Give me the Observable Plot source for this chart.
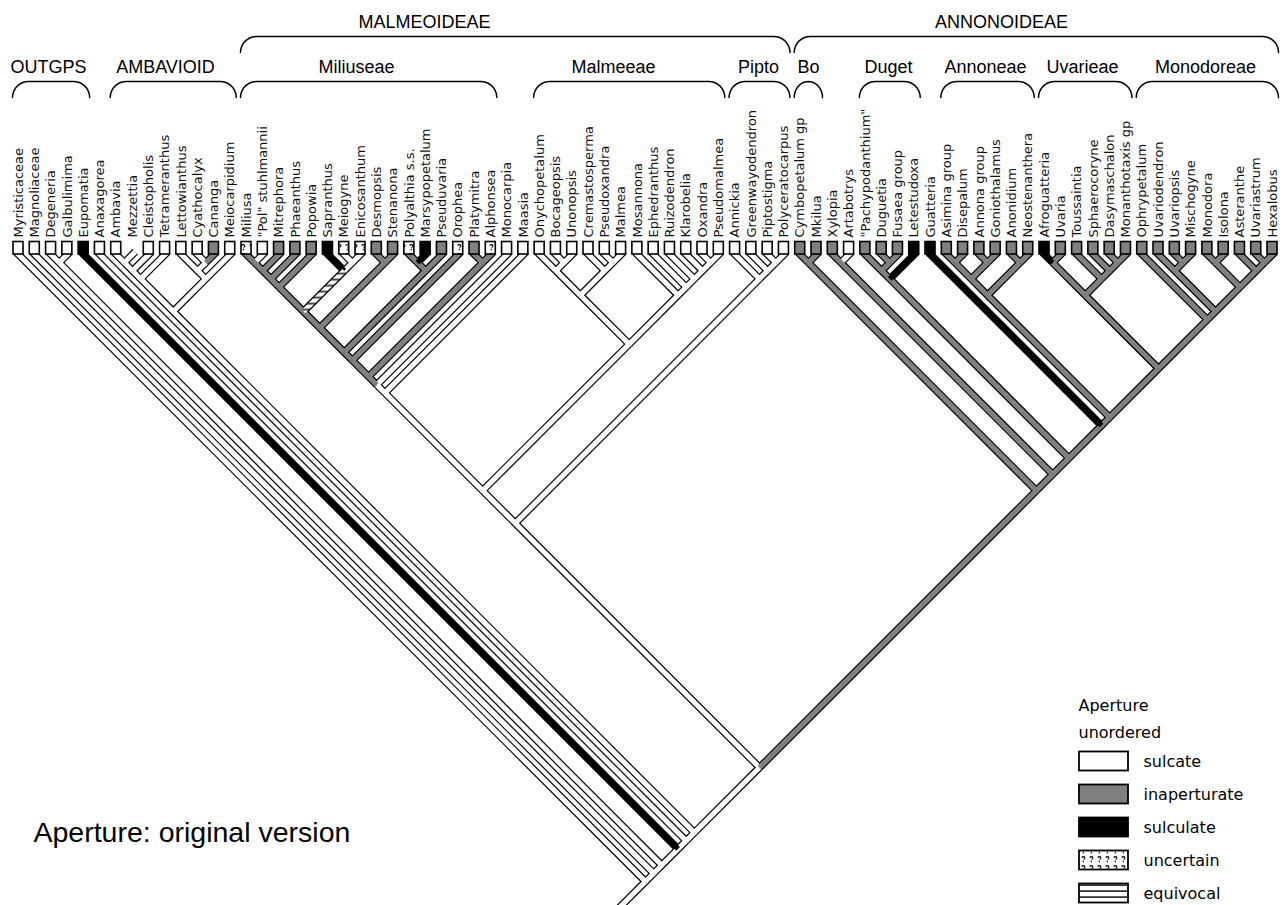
<!DOCTYPE html>
<html><head><meta charset="utf-8">
<script src="https://cdn.jsdelivr.net/npm/d3@7"></script>
<script src="https://cdn.jsdelivr.net/npm/@observablehq/plot@0.6"></script>
<style>body{margin:0;background:#fff}</style>
</head><body><div id="chart"></div>
<script>
// ---------- DATA ----------
const taxa = ["Myristicaceae","Magnoliaceae","Degeneria","Galbulimima","Eupomatia","Anaxagorea","Ambavia","Mezzettia","Cleistopholis","Tetrameranthus","Lettowianthus","Cyathocalyx","Cananga","Meiocarpidium","Miliusa","\"Pol\" stuhlmannii","Mitrephora","Phaeanthus","Popowia","Sapranthus","Meiogyne","Enicosanthum","Desmopsis","Stenanona","Polyalthia s.s.","Marsypopetalum","Pseuduvaria","Orophea","Platymitra","Alphonsea","Monocarpia","Maasia","Onychopetalum","Bocageopsis","Unonopsis","Cremastosperma","Pseudoxandra","Malmea","Mosannona","Ephedranthus","Ruizodendron","Klarobelia","Oxandra","Pseudomalmea","Annickia","Greenwayodendron","Piptostigma","Polyceratocarpus","Cymbopetalum gp","Mkilua","Xylopia","Artabotrys","\"Pachypodanthium\"","Duguetia","Fusaea group","Letestudoxa","Guatteria","Asimina group","Disepalum","Annona group","Goniothalamus","Anonidium","Neostenanthera","Afroguatteria","Uvaria","Toussaintia","Sphaerocoryne","Dasymaschalon","Monanthotaxis gp","Ophrypetalum","Uvariodendron","Uvariopsis","Mischogyne","Monodora","Isolona","Asteranthe","Uvariastrum","Hexalobus"];
// s = sulcate, i = inaperturate, c = sulculate, u = uncertain, m = missing
const tipBoxState = ["s","s","s","s","c","s","s","m","s","s","s","s","i","s",
  "u","s","i","i","i","c","u","u","i","i","u","c","i","u","i","u","s","s",
  "s","s","s","s","s","s","s","s","s","s","s","s","s","s","s","s",
  "i","i","i","s","i","i","i","c","c","i","i","i","i","i","i","c",
  "i","i","i","i","i","i","i","i","i","i","i","i","i","i"];
const tipBranchState = ["s","s","s","s","c","s","s","s","s","s","s","s","i","s",
  "i","s","i","i","i","c","s","s","i","i","i","c","i","i","i","i","s","s",
  "s","s","s","s","s","s","s","s","s","s","s","s","s","s","s","s",
  "i","i","i","s","i","i","i","c","c","i","i","i","i","i","i","c",
  "i","i","i","i","i","i","i","i","i","i","i","i","i","i"];
// clades: [first tip, last tip, state of the branch below the clade]
const clades = [
  [0,77,"s"],[1,77,"s"],[2,77,"s"],[2,3,"s"],[4,77,"s"],[5,77,"s"],[6,77,"s"],
  [6,13,"s"],[6,9,"s"],[6,8,"s"],[6,7,"s"],[10,13,"s"],[10,12,"s"],[11,12,"s"],
  [14,77,"s"],[14,47,"s"],[14,43,"s"],[14,31,"s"],[14,30,"s"],[14,29,"i"],
  [14,27,"i"],[14,26,"i"],[14,23,"i"],[14,21,"i"],[14,18,"i"],[14,17,"i"],[14,16,"i"],[14,15,"i"],
  [19,21,"e"],[20,21,"s"],[22,23,"i"],[24,26,"i"],[24,25,"i"],[28,29,"i"],
  [32,43,"s"],[32,37,"s"],[32,34,"s"],[33,34,"s"],[35,37,"s"],[36,37,"s"],
  [38,43,"s"],[39,43,"s"],[40,43,"s"],[41,43,"s"],[42,43,"s"],
  [44,47,"s"],[45,47,"s"],[46,47,"s"],
  [48,77,"i"],[48,49,"i"],[50,77,"i"],[50,51,"i"],[52,77,"i"],[52,55,"i"],[52,54,"i"],[53,54,"i"],
  [56,77,"i"],[57,77,"i"],[57,62,"i"],[57,60,"i"],[57,58,"i"],[59,60,"i"],[61,62,"i"],
  [63,77,"i"],[63,68,"i"],[63,64,"i"],[65,68,"i"],[66,68,"i"],[67,68,"i"],
  [69,77,"i"],[70,77,"i"],[70,72,"i"],[71,72,"i"],[73,77,"i"],[73,74,"i"],[75,77,"i"],[76,77,"i"]
];
// [label, first tip, last tip, label centre (px)]
const subfamilies = [["MALMEOIDEAE",14,47,424],["ANNONOIDEAE",48,77,1001]];
const tribes = [["OUTGPS",0,4,48],["AMBAVIOID",6,13,165],["Miliuseae",14,29,356],["Malmeeae",32,43,613],["Pipto",44,47,758],["Bo",48,49,808],["Duget",52,55,888],["Annoneae",57,62,985],["Uvarieae",63,68,1082],["Monodoreae",69,77,1205]];
const legendTitle = ["Aperture","unordered"];
const legendStates = ["s","i","c","u","e"];
const legendLabels = ["sulcate","inaperturate","sulculate","uncertain","equivocal"];
const chartTitle = "Aperture: original version";

// ---------- LAYOUT ----------
const K = 16.286, X0 = 18, Y0 = 254;
const ux = p => (p - X0) / K, uy = p => (p - Y0) / K;
const paint = {s:"#ffffff", i:"#808080", c:"#000000", u:"url(#unc)", e:"url(#eqv)"};

const tipNodes = taxa.map((t, i) => ({a: i, b: i, state: tipBranchState[i]}));
const cladeNodes = clades.map(([a, b, state]) => ({a, b, state}));
function parentOf(n) {
  let best = null;
  for (const c of cladeNodes) {
    if (c === n || (c.a === n.a && c.b === n.b)) continue;
    if (c.a <= n.a && n.b <= c.b && (!best || c.b - c.a < best.b - best.a)) best = c;
  }
  return best;
}
const ext = 2.7 / K;
const branches = [];
for (const n of [...tipNodes, ...cladeNodes]) {
  const nx = (n.a + n.b) / 2, ny = (n.b - n.a) / 2;
  const p = parentOf(n);
  if (!p) { branches.push({x1: nx, y1: ny, x2: nx - 2.5, y2: ny + 2.5, state: n.state}); continue; }
  const px = (p.a + p.b) / 2, py = (p.b - p.a) / 2;
  let x1 = nx, y1 = ny;
  if (n.a === n.b) { const s = Math.sign(nx - px); x1 = nx + s * ext; y1 = ny - ext; }
  branches.push({x1, y1, x2: px, y2: py, state: n.state});
}
const tips = taxa.map((name, i) => ({name, i, box: tipBoxState[i]})).filter(d => d.box !== "m");
const labels = taxa.map((name, i) => ({name, i}));

function bracketPoints(groups, topPx, dropPx) {
  const pts = [];
  groups.forEach(([label, a, b], g) => {
    const xa = X0 + a * K - 6, xb = X0 + b * K + 6;
    const rx = Math.min(16, (xb - xa) / 2), ry = dropPx;
    for (let k = 0; k <= 10; k++) { const t = k / 10 * Math.PI / 2; pts.push({g, x: ux(xa + rx * (1 - Math.cos(t))), y: uy(topPx + ry * (1 - Math.sin(t)))}); }
    for (let k = 10; k >= 0; k--) { const t = k / 10 * Math.PI / 2; pts.push({g, x: ux(xb - rx * (1 - Math.cos(t))), y: uy(topPx + ry * (1 - Math.sin(t)))}); }
  });
  return pts;
}
const br1 = bracketPoints(subfamilies, 36, 16);
const br2 = bracketPoints(tribes, 81, 16);

const legendRows = legendStates.map((s, k) => ({s, label: legendLabels[k], yc: 761 + k * 33}));

const sansH = "Liberation Sans, Arial, Helvetica, sans-serif";
const sansL = "DejaVu Sans, Verdana, sans-serif";

const marks = [
  Plot.link(branches, {x1: "x1", y1: "y1", x2: "x2", y2: "y2", stroke: "#000", strokeWidth: 7.6}),
  ...["s", "i", "c", "e"].map(s => Plot.link(branches.filter(d => d.state === s),
      {x1: "x1", y1: "y1", x2: "x2", y2: "y2", stroke: paint[s], strokeWidth: 5.2})),
  Plot.rect(tips, {x1: d => d.i - 5 / K, x2: d => d.i + 5 / K, y1: -12.5 / K, y2: 0,
      fill: d => paint[d.box], stroke: "#000", strokeWidth: 1.6}),
  Plot.text(labels, {x: "i", y: uy(237), text: "name", rotate: -90, textAnchor: "start",
      lineAnchor: "middle", fontSize: 13, fontFamily: sansL, fill: "#111"}),
  Plot.line(br1, {x: "x", y: "y", z: "g", stroke: "#000", strokeWidth: 1.5}),
  Plot.line(br2, {x: "x", y: "y", z: "g", stroke: "#000", strokeWidth: 1.5}),
  Plot.text(subfamilies, {x: d => ux(d[3]), y: uy(22), text: d => d[0], fontSize: 18, fontFamily: sansH}),
  Plot.text(tribes, {x: d => ux(d[3]), y: uy(67), text: d => d[0], fontSize: 18, fontFamily: sansH}),
  Plot.text([chartTitle], {x: ux(33), y: uy(832), text: d => d, textAnchor: "start", fontSize: 28.5, fontFamily: sansH}),
  Plot.text(legendTitle, {x: ux(1078), y: (d, k) => uy(705 + k * 27), text: d => d, textAnchor: "start", fontSize: 16, fontFamily: sansL}),
  Plot.rect(legendRows, {x1: ux(1079), x2: ux(1128), y1: d => uy(d.yc - 9.5), y2: d => uy(d.yc + 9.5),
      fill: d => paint[d.s], stroke: "#000", strokeWidth: 1.8}),
  Plot.text(legendRows, {x: ux(1143), y: d => uy(d.yc), text: "label", textAnchor: "start", fontSize: 16, fontFamily: sansL})
];

const chart = Plot.plot({
  width: 1286, height: 905, margin: 0,
  x: {type: "linear", domain: [0, 77], range: [X0, X0 + 77 * K], axis: null},
  y: {type: "linear", domain: [0, 1], range: [Y0, Y0 + K], axis: null},
  style: {background: "#fff", color: "#000"},
  marks
});
const ns = "http://www.w3.org/2000/svg";
const defs = document.createElementNS(ns, "defs");
defs.innerHTML = `
<pattern id="eqv" patternUnits="userSpaceOnUse" width="8" height="6">
  <rect width="8" height="6" fill="#fff"/><rect y="2.4" width="8" height="1.4" fill="#000"/>
</pattern>
<pattern id="unc" patternUnits="userSpaceOnUse" width="8" height="9">
  <rect width="8" height="9" fill="#fff"/>
  <path d="M1.6,2.6 Q3.2,0.8 4.8,2.2 Q5.4,3.6 3.4,4.6 M3.3,5.8 L3.3,7.2" fill="none" stroke="#000" stroke-width="1.1"/>
</pattern>`;
chart.insertBefore(defs, chart.firstChild);
document.getElementById("chart").appendChild(chart);
</script>
</body></html>
